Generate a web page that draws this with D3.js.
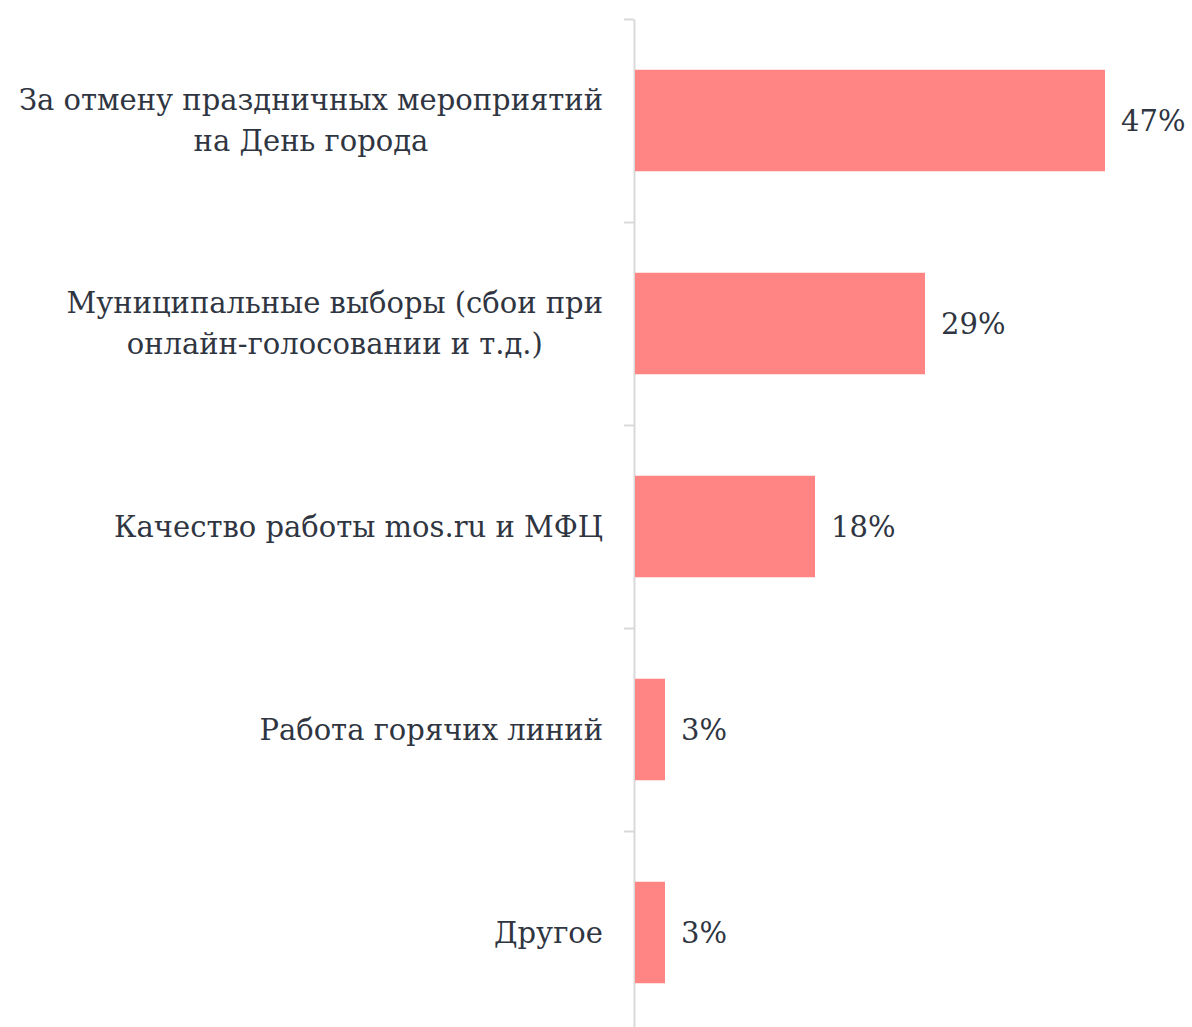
<!DOCTYPE html>
<html>
<head>
<meta charset="utf-8">
<script src="https://cdn.jsdelivr.net/npm/d3@7"></script>
<style>
  body { margin: 0; background: #fff; }
</style>
</head>
<body>
<div id="chart"></div>
<script>
/* Horizontal bar chart of complaints */

const categories = [
    ["За отмену праздничных мероприятий", "на День города"],
    ["Муниципальные выборы (сбои при", "онлайн-голосовании и т.д.)"],
    ["Качество работы mos.ru и МФЦ"],
    ["Работа горячих линий"],
    ["Другое"]
];
const values = [47, 29, 18, 3, 3];
const valueLabels = ["47%", "29%", "18%", "3%", "3%"];

const width = 1192,
      height = 1027,
      margin = ({top: 19, bottom: -7, left: 635});

const svg = d3.select("#chart")
    .append("svg")
    .attr("width", width)
    .attr("height", height)
    .attr("font-family", "'DejaVu Serif'")
    .attr("fill", "#2f3541");

const idx = d3.range(values.length);

const y = d3.scaleBand()
    .domain(idx)
    .range([margin.top, height - margin.bottom])
    .paddingInner(0.5)
    .paddingOuter(0.25);

const x = d3.scaleLinear()
    .domain([0, 50])
    .range([margin.left, margin.left + 500]);

// axis with ticks on the band edges
const edges = d3.scaleLinear()
    .domain([0, values.length])
    .range([margin.top, height - margin.bottom]);

svg.append("g")
    .attr("transform", `translate(${margin.left - 1},0)`)
    .call(d3.axisLeft(edges).ticks(values.length).tickFormat("").tickSize(10).tickSizeOuter(0))
    .call(g => g.selectAll("line, path").attr("stroke", "#d9d9d9").attr("stroke-width", 2));

svg.selectAll(".bar")
    .data(idx)
    .join("rect")
    .attr("class", "bar")
    .attr("fill", "#ff8585")
    .attr("x", x(0))
    .attr("y", i => y(i))
    .attr("width", i => x(values[i]) - x(0))
    .attr("height", y.bandwidth());

svg.selectAll(".val")
    .data(idx)
    .join("text")
    .attr("class", "val")
    .attr("x", i => x(values[i]) + 16)
    .attr("y", i => y(i) + y.bandwidth() / 2)
    .attr("dy", "0.35em")
    .attr("font-size", 29)
    .text(i => valueLabels[i]);

// labels: block right-aligned to the axis, lines centred within the block
const lab = svg.selectAll(".lab")
    .data(idx)
    .join("text")
    .attr("class", "lab")
    .attr("text-anchor", "middle")
    .attr("font-size", 29)
    .attr("transform", i => `translate(${margin.left - 32},${y(i) + y.bandwidth() / 2})`);

lab.selectAll("tspan")
    .data(i => categories[i].map((t, k) => ({t, k, n: categories[i].length})))
    .join("tspan")
    .attr("x", 0)
    .attr("y", d => (d.k - (d.n - 1) / 2) * 41)
    .attr("dy", "0.35em")
    .text(d => d.t);

lab.each(function() {
    const w = d3.max(d3.select(this).selectAll("tspan").nodes(), n => n.getComputedTextLength());
    d3.select(this).selectAll("tspan").attr("x", -w / 2);
});
</script>
</body>
</html>
